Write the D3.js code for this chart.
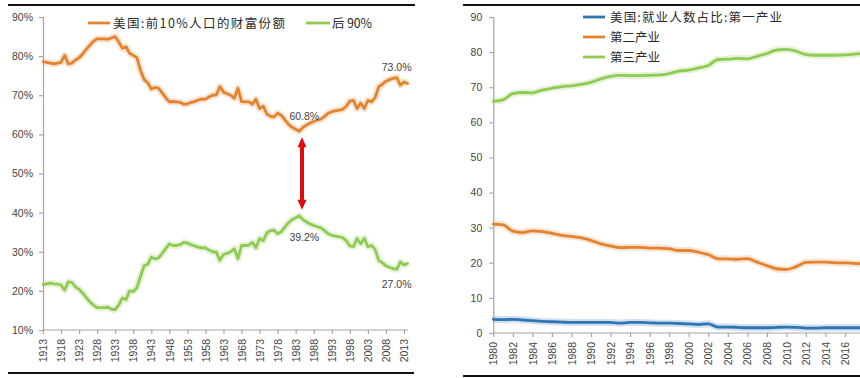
<!DOCTYPE html>
<html>
<head>
<meta charset="utf-8">
<script src="https://cdn.jsdelivr.net/npm/d3@7"></script>
<style>
  html, body { margin: 0; padding: 0; background: #fff; }
  svg { display: block; }
  .tick text { font-family: "Liberation Sans", Arial, sans-serif; font-size: 10.5px; fill: #444; }
  .legend text { font-family: "Noto Sans CJK SC", sans-serif; font-size: 12.5px; fill: #2a2a2a; }
  .note { font-family: "Liberation Sans", Arial, sans-serif; font-size: 10.5px; fill: #444; }
</style>
</head>
<body>
<svg id="chart" width="860" height="378"></svg>
<script>
// ---- Wealth share of the top 10% vs bottom 90% (US), 1913-2014 ----
const wealthYears = d3.range(1913, 2015);
const top10Share = [
  78.6, 78.4, 78.2, 78.0, 78.2, 78.4, 80.2, 78.0, 78.2, 79.0,
  79.6, 80.6, 81.8, 82.8, 83.8, 84.4, 84.4, 84.4, 84.3, 84.7,
  85.0, 83.6, 82.0, 82.4, 80.7, 80.2, 79.6, 76.4, 74.0, 73.2,
  71.6, 72.0, 71.8, 70.6, 69.4, 68.3, 68.4, 68.3, 68.2, 67.7,
  67.8, 68.2, 68.4, 68.8, 69.0, 69.0, 69.6, 70.0, 70.1, 72.2,
  70.8, 70.4, 70.0, 69.2, 71.8, 68.4, 68.3, 68.3, 67.7, 69.0,
  66.6, 67.2, 65.2, 64.6, 64.5, 65.4, 64.9, 63.7, 62.6, 61.8,
  61.3, 60.8, 61.8, 62.4, 62.9, 63.3, 63.6, 63.9, 64.6, 65.4,
  65.8, 66.0, 66.2, 66.4, 67.2, 68.5, 68.7, 66.6, 68.0, 66.6,
  68.7, 68.3, 69.4, 72.2, 72.8, 73.6, 74.0, 74.3, 74.5, 72.6,
  73.4, 73.0
];
const bottom90Share = [
  21.6, 21.8, 22.0, 21.8, 21.7, 21.5, 20.2, 22.3, 22.2, 21.0,
  20.4, 19.4, 18.3, 17.2, 16.3, 15.7, 15.7, 15.7, 15.8, 15.3,
  15.2, 16.4, 18.2, 17.8, 20.0, 19.8, 20.8, 23.6, 26.4, 26.8,
  28.6, 28.2, 28.4, 29.6, 30.8, 32.0, 31.6, 31.6, 31.8, 32.4,
  32.2, 31.8, 31.5, 31.2, 31.0, 31.0, 30.4, 30.0, 29.9, 27.8,
  29.3, 29.6, 30.0, 30.8, 28.2, 31.6, 31.6, 31.7, 32.4, 31.0,
  33.4, 32.8, 34.8, 35.4, 35.5, 34.6, 35.1, 36.3, 37.4, 38.2,
  38.7, 39.2, 38.2, 37.6, 37.1, 36.7, 36.4, 36.1, 35.4, 34.6,
  34.2, 34.0, 33.8, 33.6, 32.8, 31.5, 31.3, 33.4, 32.0, 33.4,
  31.3, 31.6, 30.6, 27.8, 27.2, 26.4, 26.0, 25.7, 25.5, 27.4,
  26.6, 27.0
];
const wealthYTicks = [10, 20, 30, 40, 50, 60, 70, 80, 90];
const wealthXTicks = d3.range(1913, 2014, 5);
const wealthLegend = ["美国:前10%人口的财富份额", "后 90%"];
const wealthNotes = [
  { year: 1984, value: 60.8, text: "60.8%" },
  { year: 1984, value: 39.2, text: "39.2%" },
  { year: 2014, value: 73.0, text: "73.0%" },
  { year: 2014, value: 27.0, text: "27.0%" }
];

// ---- Employment share by sector (US), 1980-2018 ----
const jobYears = d3.range(1980, 2019);
const primaryShare = [
  3.9, 3.8, 3.9, 3.7, 3.5, 3.3, 3.2, 3.1, 3.0, 3.0,
  3.0, 3.0, 3.0, 2.8, 3.0, 3.0, 2.9, 2.8, 2.8, 2.7,
  2.6, 2.4, 2.6, 1.7, 1.7, 1.6, 1.5, 1.5, 1.5, 1.6,
  1.7, 1.6, 1.4, 1.4, 1.5, 1.5, 1.5, 1.5, 1.5
];
const secondaryShare = [
  31.0, 30.8, 29.0, 28.6, 29.1, 28.9, 28.4, 27.8, 27.5, 27.1,
  26.4, 25.4, 24.8, 24.3, 24.4, 24.4, 24.2, 24.2, 24.0, 23.5,
  23.5, 23.0, 22.3, 21.2, 21.1, 21.0, 21.2, 20.2, 19.2, 18.3,
  18.1, 18.9, 20.1, 20.2, 20.2, 20.0, 20.0, 19.8, 19.7
];
const tertiaryShare = [
  66.0, 66.4, 68.2, 68.5, 68.4, 69.2, 69.7, 70.2, 70.4, 70.8,
  71.4, 72.4, 73.1, 73.4, 73.3, 73.3, 73.4, 73.5, 73.9, 74.6,
  74.9, 75.5, 76.2, 77.9, 78.0, 78.2, 78.1, 78.8, 79.6, 80.6,
  80.8, 80.3, 79.3, 79.1, 79.1, 79.1, 79.2, 79.4, 79.7
];
const jobYTicks = [0, 10, 20, 30, 40, 50, 60, 70, 80, 90];
const jobXTicks = d3.range(1980, 2017, 2);
const jobLegend = ["美国:就业人数占比:第一产业", "第二产业", "第三产业"];

const ORANGE = "#e4832f", GREEN = "#8fca52", BLUE = "#2f74b5", RED = "#e10a0a";
const AXIS = "#a6a6a6";

const svg = d3.select("#chart");

// glowing line: a pale wide stroke under the main one
function drawLine(g, xs, ys, x, y, color, curve) {
  const gen = d3.line().x((d, i) => x(xs[i])).y(d => y(d)).curve(curve);
  g.append("path").attr("d", gen(ys)).attr("fill", "none")
    .attr("stroke", color).attr("stroke-opacity", 0.22).attr("stroke-width", 7)
    .attr("stroke-linejoin", "round");
  g.append("path").attr("d", gen(ys)).attr("fill", "none")
    .attr("stroke", color).attr("stroke-width", 2.8)
    .attr("stroke-linejoin", "round").attr("stroke-linecap", "round");
}

function styleAxis(sel) {
  sel.select(".domain").attr("stroke", AXIS).attr("stroke-width", 1.2);
  sel.selectAll(".tick line").attr("stroke", AXIS).attr("stroke-width", 1.2);
}

// ================= left panel =================
{
  const x = d3.scaleLinear().domain([1913, 2013]).range([43, 404]);
  const y = d3.scaleLinear().domain([10, 90]).range([330, 17]);
  const g = svg.append("g");

  // panel rules
  g.append("line").attr("x1", 8).attr("x2", 415).attr("y1", 5).attr("y2", 5)
    .attr("stroke", "#111").attr("stroke-width", 2);
  g.append("line").attr("x1", 8).attr("x2", 414).attr("y1", 373).attr("y2", 373)
    .attr("stroke", "#111").attr("stroke-width", 2);

  const yAxis = g.append("g").attr("transform", "translate(43,0)")
    .call(d3.axisLeft(y).tickValues(wealthYTicks).tickSize(4).tickPadding(6)
      .tickFormat(d => d + "%"));
  styleAxis(yAxis);

  const xAxis = g.append("g").attr("transform", "translate(0,330)")
    .call(d3.axisBottom(x).tickValues(wealthXTicks).tickSize(4).tickSizeOuter(0)
      .tickFormat(d => String(d)));
  xAxis.select(".domain").attr("d", "M43,0H408");
  xAxis.selectAll(".tick text")
    .attr("transform", "rotate(-90)").attr("text-anchor", "end")
    .attr("x", -9).attr("y", 0).attr("dy", "0.35em");
  styleAxis(xAxis);

  drawLine(g, wealthYears, bottom90Share, x, y, GREEN, d3.curveLinear);
  drawLine(g, wealthYears, top10Share, x, y, ORANGE, d3.curveLinear);

  // value callouts
  const offsets = { "60.8%": [5, -11], "39.2%": [5, 25], "73.0%": [-11, -13], "27.0%": [-11, 25] };
  wealthNotes.forEach(n => {
    const [dx, dy] = offsets[n.text];
    g.append("text").attr("class", "note").attr("text-anchor", "middle")
      .attr("x", x(n.year) + dx).attr("y", y(n.value) + dy).text(n.text);
  });

  // double-headed arrow between the 1984 values
  const ax = x(1984) + 2.7;
  const y1 = y(60.8) + 6, y2 = y(39.2) - 6;
  g.append("line").attr("x1", ax).attr("x2", ax).attr("y1", y1 + 8).attr("y2", y2 - 8)
    .attr("stroke", RED).attr("stroke-width", 4);
  g.append("path").attr("fill", RED)
    .attr("d", `M${ax},${y1}L${ax - 4.5},${y1 + 10}L${ax + 4.5},${y1 + 10}Z`);
  g.append("path").attr("fill", RED)
    .attr("d", `M${ax},${y2}L${ax - 4.5},${y2 - 10}L${ax + 4.5},${y2 - 10}Z`);

  // legend
  const lg = g.append("g").attr("class", "legend");
  const items = [
    { x0: 88, x1: 110, tx: 113, w: 172, color: ORANGE, label: wealthLegend[0] },
    { x0: 306, x1: 330, tx: 332, w: 40, color: GREEN, label: wealthLegend[1] }
  ];
  items.forEach(it => {
    lg.append("line").attr("x1", it.x0).attr("x2", it.x1).attr("y1", 23).attr("y2", 23)
      .attr("stroke", it.color).attr("stroke-width", 2.8);
    lg.append("text").attr("x", it.tx).attr("y", 27.5)
      .attr("textLength", it.w).attr("lengthAdjust", "spacing").text(it.label);
  });
}

// ================= right panel =================
{
  const x = d3.scaleLinear().domain([1980, 2016]).range([493.3, 845]);
  const y = d3.scaleLinear().domain([0, 90]).range([333, 17]);
  const g = svg.append("g");

  g.append("line").attr("x1", 463).attr("x2", 860).attr("y1", 5).attr("y2", 5)
    .attr("stroke", "#111").attr("stroke-width", 2);
  g.append("line").attr("x1", 463).attr("x2", 860).attr("y1", 376).attr("y2", 376)
    .attr("stroke", "#111").attr("stroke-width", 2);

  const yAxis = g.append("g").attr("transform", "translate(493.3,0)")
    .call(d3.axisLeft(y).tickValues(jobYTicks).tickSize(4).tickPadding(7));
  styleAxis(yAxis);

  const xAxis = g.append("g").attr("transform", "translate(0,333)")
    .call(d3.axisBottom(x).tickValues(jobXTicks).tickSize(4).tickSizeOuter(0)
      .tickFormat(d => String(d)));
  xAxis.select(".domain").attr("d", "M493.3,0H860");
  xAxis.selectAll(".tick text")
    .attr("transform", "rotate(-90)").attr("text-anchor", "end")
    .attr("x", -9).attr("y", 0).attr("dy", "0.35em");
  styleAxis(xAxis);

  drawLine(g, jobYears, tertiaryShare, x, y, GREEN, d3.curveMonotoneX);
  drawLine(g, jobYears, secondaryShare, x, y, ORANGE, d3.curveMonotoneX);
  drawLine(g, jobYears, primaryShare, x, y, BLUE, d3.curveMonotoneX);

  const lg = g.append("g").attr("class", "legend");
  const colors = [BLUE, ORANGE, GREEN];
  const widths = [172, 50, 50];
  jobLegend.forEach((label, i) => {
    const ly = 17 + i * 20;
    lg.append("line").attr("x1", 583).attr("x2", 605).attr("y1", ly).attr("y2", ly)
      .attr("stroke", colors[i]).attr("stroke-width", 2.8);
    lg.append("text").attr("x", 610).attr("y", ly + 4.5)
      .attr("textLength", widths[i]).attr("lengthAdjust", "spacing").text(label);
  });
}
</script>
</body>
</html>
